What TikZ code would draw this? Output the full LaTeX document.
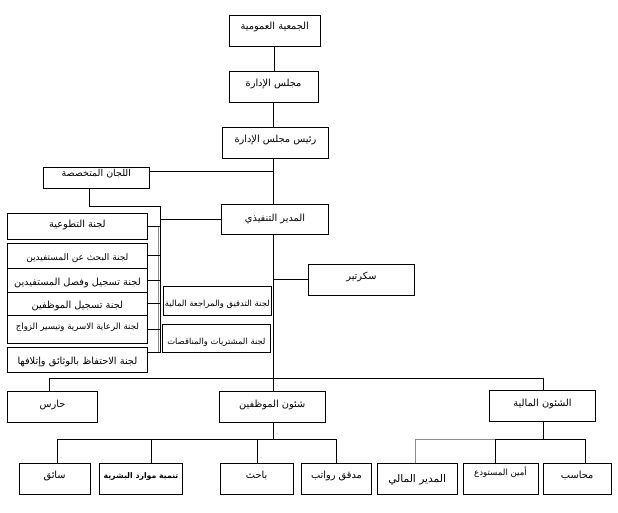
\documentclass[tikz,border=0pt]{standalone}
\usepackage{fontspec}
\newfontfamily\arabicfont[Script=Arabic]{DejaVu Sans}
\TeXXeTstate=1
\newcommand{\artxt}[1]{\beginR #1\endR}
\newcommand{\fsz}[1]{\fontsize{#1}{#1}\selectfont}
\tikzset{
  ln/.style={draw, line width=0.8pt},
  lng/.style={draw=black!45, line width=0.8pt},
  box/.style={draw, line width=0.8pt, inner sep=0pt, align=center,
    font=\arabicfont\fsz{9.8}, text height=6pt, text depth=6pt},
  rowbox/.style={box, text height=10pt, text depth=1pt},
  midbox/.style={box, text height=12pt, text depth=0pt, font=\arabicfont\fsz{8.4}},
  bigtxt/.style={font=\arabicfont\fsz{10.6}, text height=9pt, text depth=1pt},
  boldtxt/.style={font=\arabicfont\bfseries\fsz{7.8}}
}
\begin{document}
\begin{tikzpicture}[x=1pt,y=-1pt]
\useasboundingbox[fill=white] (0,0) rectangle (618,513);
% top chain
\node[box, minimum width=91.5pt, minimum height=31.5pt, text depth=9pt] (gen) at (274.75,30.75) {\artxt{الجمعية العمومية}};
\node[box, minimum width=89pt, minimum height=31.5pt] (board) at (273.5,86.75) {\artxt{مجلس الإدارة}};
\node[box, minimum width=105.8pt, minimum height=31pt] (chair) at (275.4,142.5) {\artxt{رئيس مجلس الإدارة}};
\node[box, font=\arabicfont\fsz{9.5}, minimum width=106pt, minimum height=20.6pt, text depth=8pt] (comms) at (96.3,178) {\artxt{اللجان المتخصصة}};
\node[box, minimum width=106.6pt, minimum height=30pt, text height=8pt, text depth=4pt] (exec) at (275,219) {\artxt{المدير التنفيذي}};
% left committees
\node[rowbox, minimum width=140.2pt, minimum height=26pt, text height=8pt, text depth=5pt] (vol) at (77.4,226.3) {\artxt{لجنة التطوعية}};
\node[rowbox, font=\arabicfont\fsz{9}, minimum width=140.2pt, minimum height=25pt] (r1) at (77.4,255.8) {\artxt{لجنة البحث عن المستفيدين}};
\node[rowbox, minimum width=140.2pt, minimum height=24.4pt] (r2) at (77.4,280.5) {\artxt{لجنة تسجيل وفصل المستفيدين}};
\node[rowbox, minimum width=140.2pt, minimum height=22.3pt] (r3) at (77.4,303.85) {\artxt{لجنة تسجيل الموظفين}};
\node[rowbox, font=\arabicfont\fsz{8.6}, minimum width=140.2pt, minimum height=28.3pt, text height=9pt, text depth=8pt] (r4) at (77.4,329.15) {\artxt{لجنة الرعاية الاسرية وتيسير الزواج}};
\node[rowbox, minimum width=140.2pt, minimum height=25.4pt] (keep) at (77.4,360) {\artxt{لجنة الاحتفاظ بالوثائق وإتلافها}};
\node[midbox, minimum width=108pt, minimum height=29.7pt] (audit) at (217.3,300.85) {\artxt{لجنة التدقيق والمراجعة المالية}};
\node[midbox, minimum width=107.8pt, minimum height=28.7pt] (purch) at (216.4,338.35) {\artxt{لجنة المشتريات والمناقصات}};
\node[box, minimum width=106.2pt, minimum height=31.3pt] (sec) at (361.4,279.85) {\artxt{سكرتير}};
% departments
\node[box, minimum width=90.4pt, minimum height=30.6pt] (guard) at (52.5,407) {\artxt{حارس}};
\node[box, minimum width=106pt, minimum height=30.6pt] (staff) at (272.3,407) {\artxt{شئون الموظفين}};
\node[box, minimum width=105.6pt, minimum height=31pt] (fin) at (542.5,406.2) {\artxt{الشئون المالية}};
% bottom row
\node[box, minimum width=70.7pt, minimum height=30.7pt] (driver) at (54.65,478.65) {\artxt{سائق}};
\node[box, boldtxt, minimum width=83.4pt, minimum height=30.7pt] (hr) at (141,478.65) {\artxt{تنمية موارد البشرية}};
\node[box, minimum width=73.3pt, minimum height=30.7pt] (research) at (256.65,478.65) {\artxt{باحث}};
\node[box, minimum width=69.6pt, minimum height=30.7pt] (payroll) at (336.5,478.65) {\artxt{مدقق رواتب}};
\node[box, bigtxt, minimum width=79.7pt, minimum height=30.7pt] (finmgr) at (417.15,478.65) {\artxt{المدير المالي}};
\node[box, font=\arabicfont\fsz{8.6}, minimum width=75pt, minimum height=30.7pt, text depth=13pt] (store) at (500.5,478.65) {\artxt{أمين المستودع}};
\node[box, minimum width=68.3pt, minimum height=30.7pt] (acct) at (577.15,478.65) {\artxt{محاسب}};
% coordinates
\coordinate (mv) at (273.3,0);
\coordinate (jc) at (273.3,171.7);
\coordinate (cl) at (89.3,206.7);
\coordinate (vb) at (160.7,206.7);
\coordinate (vbe) at (160.7,352);
\coordinate (gt) at (158.3,227);
\coordinate (gb) at (158.3,352);
\coordinate (mvb) at (273.3,378.3);
\coordinate (bl) at (49.3,378.3);
\coordinate (br) at (543,378.3);
\coordinate (sb) at (273.3,439.3);
\coordinate (s1) at (57.3,439.3);
\coordinate (s2) at (151.7,439.3);
\coordinate (s3) at (257.3,439.3);
\coordinate (s4) at (336.3,439.3);
\coordinate (fb) at (543,439.3);
\coordinate (f1) at (415.3,439.3);
\coordinate (f2) at (495.7,439.3);
\coordinate (f3) at (585.3,439.3);
% connectors
\draw[ln] (gen.south) -- (gen.south |- board.north);
\draw[ln] (board.south) -- (board.south |- chair.north);
\draw[ln] (chair.south -| mv) -- (exec.north -| mv);
\draw[ln] (comms.east |- jc) -- (jc);
\draw[ln] (comms.south -| cl) -- (cl) -- (vb) -- (vbe);
\draw[lng] (gt) -- (gb);
\draw[ln] (exec.west) -- (exec.west -| vb);
\draw[ln] (vol.east) -- (vol.east -| vb);
\draw[ln] (r1.east) -- (r1.east -| vb);
\draw[ln] (r2.east) -- (r2.east -| vb);
\draw[ln] (r3.east) -- (r3.east -| vb);
\draw[ln] (r4.east) -- (r4.east -| vb);
\draw[ln] (keep.east |- vbe) -- (vbe);
\draw[ln] (exec.south -| mv) -- (mvb) -- (staff.north -| mv);
\draw[ln] (sec.west -| mv) -- (sec.west);
\draw[ln] (guard.north -| bl) -- (bl) -- (br) -- (fin.north -| br);
\draw[ln] (staff.south -| sb) -- (sb);
\draw[ln] (s1) -- (s4);
\draw[ln] (s1) -- (driver.north -| s1);
\draw[ln] (s2) -- (hr.north -| s2);
\draw[ln] (s3) -- (research.north -| s3);
\draw[ln] (s4) -- (payroll.north -| s4);
\draw[ln] (fin.south -| fb) -- (fb);
\draw[lng] (f1) -- (f2);
\draw[ln] (f2) -- (f3);
\draw[lng] (f1) -- (finmgr.north -| f1);
\draw[ln] (f2) -- (store.north -| f2);
\draw[ln] (f3) -- (acct.north -| f3);
\end{tikzpicture}
\end{document}
